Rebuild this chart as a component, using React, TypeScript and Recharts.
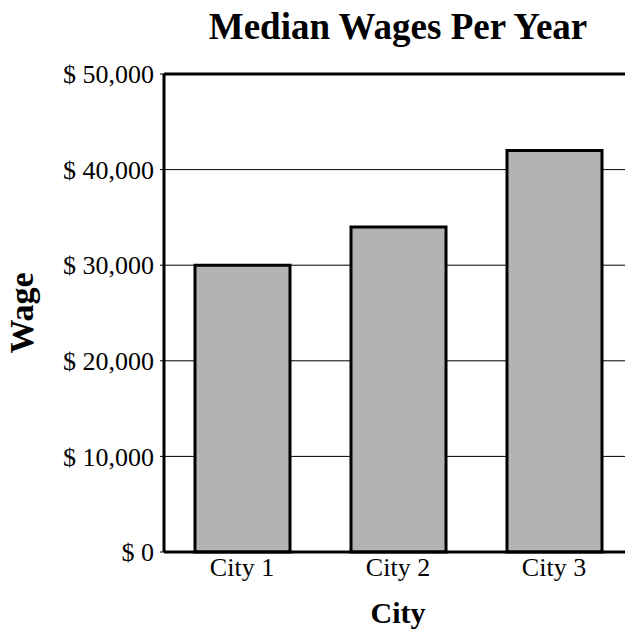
import { BarChart, Bar, XAxis, YAxis, CartesianGrid, ReferenceLine } from 'recharts';

const cities = ['City 1', 'City 2', 'City 3'];
const wages = [30000, 34000, 42000];
const yTicks = [0, 10000, 20000, 30000, 40000, 50000];

const data = cities.map((city, i) => ({ city, wage: wages[i] }));

const FONT = '"Liberation Serif", "Times New Roman", serif';

const fmt = (v: number) => `$ ${v.toLocaleString('en-US')}`;

const YLabel = (props: any) => {
  const { viewBox } = props;
  const cx = 33;
  const cy = viewBox.y + viewBox.height / 2;
  return (
    <text
      x={cx}
      y={cy}
      transform={`rotate(-90, ${cx}, ${cy})`}
      textAnchor="middle"
      fontFamily={FONT}
      fontWeight="bold"
      fontSize={34}
      fill="#000"
    >
      Wage
    </text>
  );
};

const XLabel = (props: any) => {
  const { viewBox } = props;
  return (
    <text
      x={viewBox.x + viewBox.width / 2}
      y={623}
      textAnchor="middle"
      fontFamily={FONT}
      fontWeight="bold"
      fontSize={30}
      fill="#000"
    >
      City
    </text>
  );
};

export default function App() {
  return (
    <div
      style={{
        position: 'fixed',
        left: 0,
        top: 0,
        width: 625,
        height: 631,
        overflow: 'hidden',
        background: '#fff',
        fontFamily: FONT,
      }}
    >
      <div
        style={{
          position: 'absolute',
          left: 164,
          top: 8,
          width: 468,
          textAlign: 'center',
          fontSize: 37,
          lineHeight: '37px',
          fontWeight: 'bold',
          color: '#000',
          whiteSpace: 'nowrap',
        }}
      >
        Median Wages Per Year
      </div>
      <BarChart
        width={640}
        height={631}
        data={data}
        margin={{ top: 74, right: 8, bottom: 0, left: 0 }}
        barSize={95}
      >
        <CartesianGrid horizontal vertical={false} stroke="#000" strokeWidth={1} />
        <XAxis
          dataKey="city"
          height={79}
          tickLine={false}
          tickSize={0}
          tickMargin={6}
          axisLine={{ stroke: '#000', strokeWidth: 3 }}
          tick={{ fill: '#000', fontSize: 26, fontFamily: FONT }}
          label={<XLabel />}
        />
        <YAxis
          width={164}
          domain={[0, 50000]}
          ticks={yTicks}
          tickFormatter={fmt}
          tickSize={4}
          tickMargin={6}
          tickLine={{ stroke: '#000' }}
          axisLine={{ stroke: '#000', strokeWidth: 3 }}
          tick={{ fill: '#000', fontSize: 26, fontFamily: FONT }}
          label={<YLabel />}
        />
        <ReferenceLine y={50000} stroke="#000" strokeWidth={3} />
        <Bar
          dataKey="wage"
          fill="#b3b3b3"
          stroke="#000"
          strokeWidth={3}
          isAnimationActive={false}
        />
      </BarChart>
    </div>
  );
}
